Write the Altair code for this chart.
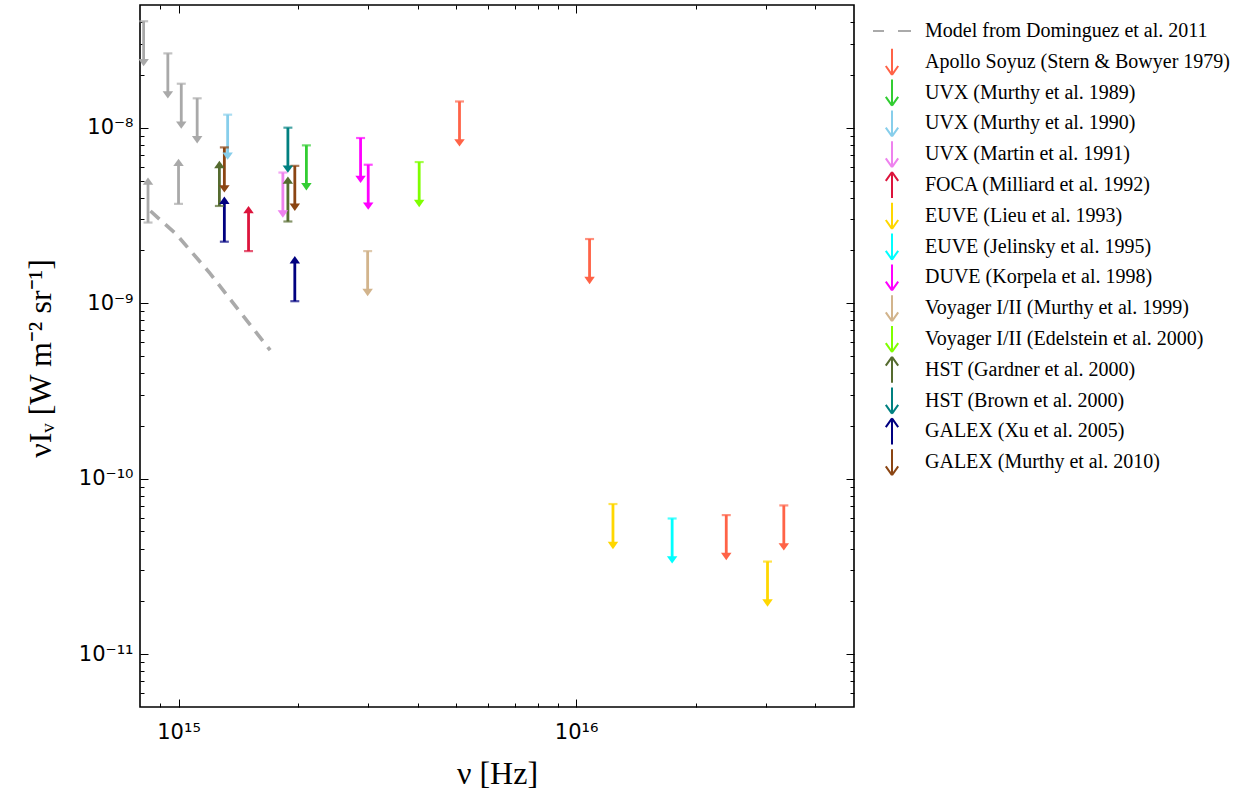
import altair as alt
import pandas as pd

# ---------------- data ----------------
series_names = [
    "Model from Dominguez et al. 2011",
    "Apollo Soyuz (Stern & Bowyer 1979)",
    "UVX (Murthy et al. 1989)",
    "UVX (Murthy et al. 1990)",
    "UVX (Martin et al. 1991)",
    "FOCA (Milliard et al. 1992)",
    "EUVE (Lieu et al. 1993)",
    "EUVE (Jelinsky et al. 1995)",
    "DUVE (Korpela et al. 1998)",
    "Voyager I/II (Murthy et al. 1999)",
    "Voyager I/II (Edelstein et al. 2000)",
    "HST (Gardner et al. 2000)",
    "HST (Brown et al. 2000)",
    "GALEX (Xu et al. 2005)",
    "GALEX (Murthy et al. 2010)",
]
series_colors = ["#aaaaaa", "#ff6347", "#32cd32", "#87ceeb", "#ee82ee", "#dc143c",
                 "#ffd700", "#00ffff", "#ff00ff", "#d2b48c", "#7fff00", "#556b2f",
                 "#008080", "#000080", "#8b4513"]
series_kind = ["model", "down", "down", "down", "down", "up", "down", "down", "down",
               "down", "down", "up", "down", "up", "down"]
other_name = "Other"
other_color = "#a9a9a9"

A = "Apollo Soyuz (Stern & Bowyer 1979)"
pt_series = [
    other_name, other_name, other_name, other_name, other_name, other_name,
    A, A, A, A,
    "UVX (Murthy et al. 1989)",
    "UVX (Murthy et al. 1990)",
    "UVX (Martin et al. 1991)",
    "FOCA (Milliard et al. 1992)",
    "EUVE (Lieu et al. 1993)", "EUVE (Lieu et al. 1993)",
    "EUVE (Jelinsky et al. 1995)",
    "DUVE (Korpela et al. 1998)", "DUVE (Korpela et al. 1998)",
    "Voyager I/II (Murthy et al. 1999)",
    "Voyager I/II (Edelstein et al. 2000)",
    "HST (Gardner et al. 2000)", "HST (Gardner et al. 2000)",
    "HST (Brown et al. 2000)",
    "GALEX (Xu et al. 2005)", "GALEX (Xu et al. 2005)",
    "GALEX (Murthy et al. 2010)", "GALEX (Murthy et al. 2010)",
]
pt_nu = [
    8.17e14, 9.4e14, 1.016e15, 1.114e15, 8.38e14, 1.0e15,
    5.09e15, 1.081e16, 2.386e16, 3.33e16,
    2.097e15,
    1.329e15,
    1.83e15,
    1.5e15,
    1.238e16, 3.03e16,
    1.744e16,
    2.87e15, 3.0e15,
    2.99e15,
    4.03e15,
    1.267e15, 1.884e15,
    1.884e15,
    1.304e15, 1.961e15,
    1.304e15, 1.961e15,
]
pt_val = [
    4.04e-8, 2.65e-8, 1.78e-8, 1.47e-8, 2.88e-9, 3.68e-9,
    1.41e-8, 2.32e-9, 6.2e-11, 7.04e-11,
    7.93e-9,
    1.186e-8,
    5.55e-9,
    1.98e-9,
    7.17e-11, 3.37e-11,
    5.93e-11,
    8.73e-9, 6.15e-9,
    1.98e-9,
    6.37e-9,
    3.58e-9, 2.92e-9,
    1.0e-8,
    2.24e-9, 1.026e-9,
    7.72e-9, 6.06e-9,
]
pt_dir = [
    "down", "down", "down", "down", "up", "up",
    "down", "down", "down", "down",
    "down", "down", "down", "up", "down", "down", "down",
    "down", "down", "down", "down",
    "up", "up", "down", "up", "up", "down", "down",
]

model_nu = [8.5e14, 9.87e14, 1.2e15, 1.44e15, 1.7e15]
model_val = [3.35e-9, 2.47e-9, 1.48e-9, 8.7e-10, 5.4e-10]

x_major = [1e15, 1e16]
x_major_labels = ["10¹⁵", "10¹⁶"]
x_minor = [9e14, 2e15, 3e15, 4e15, 5e15, 6e15, 7e15, 8e15, 9e15, 2e16, 3e16, 4e16]
y_major = [1e-11, 1e-10, 1e-9, 1e-8]
y_major_labels = ["10⁻¹¹", "10⁻¹⁰", "10⁻⁹", "10⁻⁸"]
y_minor = [6e-12, 7e-12, 8e-12, 9e-12,
           2e-11, 3e-11, 4e-11, 5e-11, 6e-11, 7e-11, 8e-11, 9e-11,
           2e-10, 3e-10, 4e-10, 5e-10, 6e-10, 7e-10, 8e-10, 9e-10,
           2e-9, 3e-9, 4e-9, 5e-9, 6e-9, 7e-9, 8e-9, 9e-9,
           2e-8, 3e-8, 4e-8]

# ---------------- tables ----------------
ARROW_DEC = 0.257  # arrow length in decades (style)
pts = pd.DataFrame({"series": pt_series, "nu": pt_nu, "val": pt_val, "dir": pt_dir})
sign = pts["dir"].map({"down": -1.0, "up": 1.0})
pts["tip"] = pts["val"] * 10 ** (sign * ARROW_DEC)
pts["shaft"] = pts["val"] * 10 ** (sign * (ARROW_DEC - 0.025))

model = pd.DataFrame({"series": series_names[0], "nu": model_nu, "val": model_val})

shape_paths = {
    "down": "M0,-1.3L0,1.3M0,1.3L-0.62,0.42M0,1.3L0.62,0.42",
    "up": "M0,1.3L0,-1.3M0,-1.3L-0.62,-0.42M0,-1.3L0.62,-0.42",
    "model": "M-1.9,0L-0.8,0M0.6,0L1.9,0M0,-1.3M0,1.3",
}
first_pts = pts.groupby("series", sort=False).first().reset_index()[["series", "nu", "val"]]
leg_rows = pd.concat([model.iloc[[0]], first_pts], ignore_index=True)

domain_all = series_names + [other_name]
color_scale = alt.Scale(domain=domain_all, range=series_colors + [other_color])
shape_scale = alt.Scale(domain=domain_all,
                        range=[shape_paths[k] for k in series_kind] + ["circle"])
xs = alt.Scale(type="log", domain=[8e14, 5e16], nice=False)
ys = alt.Scale(type="log", domain=[5e-12, 5e-8], nice=False)

SERIF = "Liberation Serif"
SANS = "DejaVu Sans"

legend = alt.Legend(
    title=None, values=series_names, orient="none", legendX=741, legendY=15,
    symbolSize=400, symbolStrokeWidth=2.0, symbolOpacity=1,
    symbolFillColor="transparent",
    labelFont=SERIF, labelFontSize=20, labelColor="black", labelLimit=600,
    labelOffset=22, rowPadding=-3.2, padding=0,
)


def xenc(axis=None, field="nu"):
    return alt.X(f"{field}:Q", scale=xs, axis=axis)


def yenc(field="val", axis=None):
    return alt.Y(f"{field}:Q", scale=ys, axis=axis)


col = alt.Color("series:N", scale=color_scale)

legend_layer = alt.Chart(leg_rows).mark_point(filled=False, opacity=0).encode(
    x=xenc(), y=yenc(),
    color=alt.Color("series:N", scale=color_scale, legend=legend),
    shape=alt.Shape("series:N", scale=shape_scale, legend=legend),
)

model_line = alt.Chart(model).mark_line(strokeDash=[12, 8], strokeWidth=3.6).encode(
    x=xenc(), y=yenc(), color=col)

shafts = alt.Chart(pts).mark_rule(strokeWidth=2.8).encode(
    x=xenc(), y=yenc(), y2=alt.Y2("shaft:Q"), color=col)

caps = alt.Chart(pts).mark_tick(orient="horizontal", size=9, thickness=2.2).encode(
    x=xenc(), y=yenc(), color=col)

heads_down = alt.Chart(pts).transform_filter(alt.datum.dir == "down").mark_point(
    filled=True, size=110, opacity=1, strokeWidth=0,
    shape="M-1,-1.4L1,-1.4L0,0Z").encode(x=xenc(), y=yenc("tip"), color=col)

heads_up = alt.Chart(pts).transform_filter(alt.datum.dir == "up").mark_point(
    filled=True, size=110, opacity=1, strokeWidth=0,
    shape="M-1,1.4L1,1.4L0,0Z").encode(x=xenc(), y=yenc("tip"), color=col)


def label_expr(values, labels):
    expr = "''"
    for v, l in zip(reversed(values), reversed(labels)):
        expr = f"datum.value == {v!r} ? '{l}' : {expr}"
    return expr


ax_common = dict(grid=False, domain=False, labelColor="black", tickColor="black")

label_axes = alt.Chart(pts).mark_point(opacity=0).encode(
    x=xenc(alt.Axis(orient="bottom", values=x_major,
                    labelExpr=label_expr(x_major, x_major_labels),
                    ticks=False, labelFont=SANS, labelFontSize=21, labelPadding=14,
                    labelFlush=False, labelOverlap=False,
                    title="ν [Hz]", titleFont=SERIF, titleFontSize=32,
                    titleFontWeight="normal", titleColor="black",
                    titleX=357, titleY=66, titleBaseline="middle", titleAlign="center",
                    **ax_common)),
    y=yenc(axis=alt.Axis(orient="left", values=y_major,
                         labelExpr=label_expr(y_major, y_major_labels),
                         ticks=False, labelFont=SANS, labelFontSize=21, labelPadding=7,
                         labelFlush=False, labelOverlap=False,
                         title="νIᵥ [W m⁻² sr⁻¹]", titleFont=SERIF, titleFontSize=32,
                         titleFontWeight="normal", titleColor="black",
                         titleX=-100, titleY=353, titleAngle=270,
                         titleBaseline="middle", titleAlign="center",
                         **ax_common)),
)


def tick_layer(xorient, yorient, xvals, yvals, length):
    return alt.Chart(pts).mark_point(opacity=0).encode(
        x=xenc(alt.Axis(orient=xorient, values=xvals, offset=-length, tickSize=length,
                        tickWidth=1, labels=False, title=None, **ax_common)),
        y=yenc(axis=alt.Axis(orient=yorient, values=yvals, offset=-length,
                             tickSize=length, tickWidth=1, labels=False, title=None,
                             **ax_common)),
    )


layers = [
    legend_layer, model_line, shafts, caps, heads_down, heads_up, label_axes,
    tick_layer("bottom", "left", x_major, y_major, 8),
    tick_layer("bottom", "left", x_minor, y_minor, 4),
    tick_layer("top", "right", x_major, y_major, 8),
    tick_layer("top", "right", x_minor, y_minor, 4),
]

chart = alt.layer(*layers).resolve_axis(x="independent", y="independent").properties(
    width=714, height=702,
    autosize=alt.AutoSizeParams(type="none"),
    padding={"left": 140, "top": 5, "right": 387, "bottom": 84},
    background="white",
).configure_view(stroke="black", strokeWidth=1.6)

chart.save("out.html", embed_options={"renderer": "svg", "actions": False})
